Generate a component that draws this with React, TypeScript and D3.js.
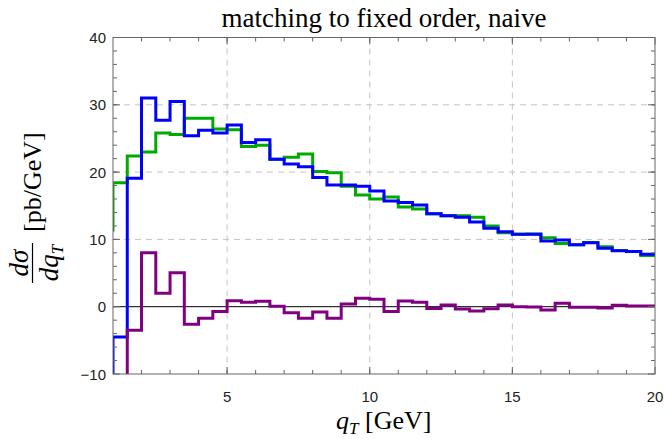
import React from "react";
import * as d3 from "d3";

// lower bin edges (GeV); last bin ends at 20
const binLow = [
  0.5, 1, 1.5, 2, 2.5, 3, 3.5, 4, 4.5, 5, 5.5, 6, 6.5, 7, 7.5, 8, 8.5, 9, 9.5,
  10, 10.5, 11, 11.5, 12, 12.5, 13, 13.5, 14, 14.5, 15, 15.5, 16, 16.5, 17,
  17.5, 18, 18.5, 19, 19.5,
];
const binEnd = 20;

const greenVals = [
  11.4, 18.4, 22.4, 23.0, 25.8, 25.6, 28.0, 28.0, 26.4, 26.3, 23.8, 24.0, 21.9,
  22.2, 22.7, 20.1, 19.9, 17.9, 16.6, 16.0, 16.3, 14.8, 14.5, 13.8, 13.5, 13.5,
  13.3, 12.0, 11.0, 10.75, 10.8, 10.25, 9.4, 9.2, 9.55, 8.9, 8.35, 8.2, 7.6,
];
const blueVals = [
  -30, -4.5, 19.1, 31.0, 27.7, 30.5, 25.4, 26.2, 25.8, 27.0, 24.4, 24.8, 21.9,
  21.2, 20.8, 19.2, 18.1, 18.1, 17.9, 17.2, 15.7, 15.5, 15.1, 13.8, 13.5, 13.3,
  12.6, 11.65, 11.15, 10.75, 10.75, 9.75, 9.9, 9.2, 9.5, 8.7, 8.3, 8.2, 7.8,
];
const purpleVals = [
  -40, -22.9, -3.5, 8.0, 2.0, 5.05, -2.6, -1.7, -0.7, 0.9, 0.65, 0.8, 0.05,
  -0.9, -1.7, -0.8, -1.7, 0.4, 1.25, 1.1, -0.7, 0.85, 0.65, -0.25, 0.25, -0.35,
  -0.65, -0.3, 0.25, 0.0, -0.05, -0.5, 0.5, -0.1, -0.1, -0.2, 0.2, 0.1, 0.1,
];

const xMajor = [5, 10, 15, 20];
const xMinor = d3.range(2, 20, 1);
const yMajor = [-10, 0, 10, 20, 30, 40];
const yMinor = d3.range(-8, 40, 2);
const xGrid = [5, 10, 15];
const yGrid = [10, 20, 30];

const titleText = "matching to fixed order, naive";

const W = 664;
const H = 439;
const L = 113;
const R = 655;
const T = 37.5;
const B = 374;

export default function App() {
  const x = d3.scaleLinear().domain([1, 20]).range([L, R]);
  const y = d3.scaleLinear().domain([-10, 40]).range([B, T]);

  const mkPath = (vals: number[]) => {
    const pts: [number, number][] = binLow.map((e, i) => [e, vals[i]]);
    pts.push([binEnd, vals[vals.length - 1]]);
    return d3
      .line<[number, number]>()
      .x((d) => x(d[0]))
      .y((d) => y(d[1]))
      .curve(d3.curveStepAfter)(pts) as string;
  };

  const frameColor = "#666";
  const sans = "'Liberation Sans', Arial, sans-serif";
  const serif = "'Liberation Serif', 'Times New Roman', serif";

  return (
    <svg
      width={W}
      height={H}
      style={{ position: "absolute", left: 0, top: 0, background: "#fff" }}
    >
      <defs>
        <clipPath id="plot">
          <rect x={L} y={T} width={R - L} height={B - T} />
        </clipPath>
      </defs>
      {/* grid */}
      {xGrid.map((v) => (
        <line
          key={"gx" + v}
          x1={x(v)}
          x2={x(v)}
          y1={T}
          y2={B}
          stroke="#c4c4c4"
          strokeWidth={1}
          strokeDasharray="6,5"
        />
      ))}
      {yGrid.map((v) => (
        <line
          key={"gy" + v}
          x1={L}
          x2={R}
          y1={y(v)}
          y2={y(v)}
          stroke="#c4c4c4"
          strokeWidth={1}
          strokeDasharray="6,5"
        />
      ))}
      {/* zero line */}
      <line x1={L} x2={R} y1={y(0)} y2={y(0)} stroke="#000" strokeWidth={1} />
      {/* histograms */}
      <g clipPath="url(#plot)" fill="none" strokeWidth={3} strokeLinejoin="miter">
        <path d={mkPath(greenVals)} stroke="#00aa00" />
        <path d={mkPath(blueVals)} stroke="#0000ff" />
        <path d={mkPath(purpleVals)} stroke="#800080" />
      </g>
      {/* frame */}
      <rect
        x={L}
        y={T}
        width={R - L}
        height={B - T}
        fill="none"
        stroke={frameColor}
        strokeWidth={1}
      />
      {/* x ticks */}
      {xMinor.map((v) => (
        <g key={"xm" + v}>
          <line x1={x(v)} x2={x(v)} y1={B} y2={B - 4} stroke={frameColor} />
          <line x1={x(v)} x2={x(v)} y1={T} y2={T + 4} stroke={frameColor} />
        </g>
      ))}
      {xMajor.map((v) => (
        <g key={"xM" + v}>
          <line x1={x(v)} x2={x(v)} y1={B} y2={B - 7} stroke={frameColor} />
          <line x1={x(v)} x2={x(v)} y1={T} y2={T + 7} stroke={frameColor} />
          <text
            x={x(v)}
            y={B + 28}
            textAnchor="middle"
            fontFamily={sans}
            fontSize={15}
            fill="#222"
          >
            {v}
          </text>
        </g>
      ))}
      {/* y ticks */}
      {yMinor.map((v) => (
        <g key={"ym" + v}>
          <line x1={L} x2={L + 4} y1={y(v)} y2={y(v)} stroke={frameColor} />
          <line x1={R} x2={R - 4} y1={y(v)} y2={y(v)} stroke={frameColor} />
        </g>
      ))}
      {yMajor.map((v) => (
        <g key={"yM" + v}>
          <line x1={L} x2={L + 7} y1={y(v)} y2={y(v)} stroke={frameColor} />
          <line x1={R} x2={R - 7} y1={y(v)} y2={y(v)} stroke={frameColor} />
          <text
            x={L - 7}
            y={y(v) + 5.5}
            textAnchor="end"
            fontFamily={sans}
            fontSize={15}
            fill="#222"
          >
            {v < 0 ? "\u2212" + Math.abs(v) : v}
          </text>
        </g>
      ))}
      {/* title */}
      <text
        x={(L + R) / 2}
        y={27}
        textAnchor="middle"
        fontFamily={serif}
        fontSize={27}
        fill="#000"
      >
        {titleText}
      </text>
      {/* x label */}
      <text x={336} y={429} fontFamily={serif} fontSize={26} fill="#000">
        <tspan fontStyle="italic">q</tspan>
        <tspan fontStyle="italic" fontSize={17} dy={5}>
          T
        </tspan>
        <tspan dy={-5}> [GeV]</tspan>
      </text>
      {/* y label */}
      <g fontFamily={serif} fill="#000">
        <text
          transform="translate(28,263) rotate(-90)"
          textAnchor="middle"
          fontSize={27}
          fontStyle="italic"
        >
          dσ
        </text>
        <line x1={32.5} x2={32.5} y1={243} y2={283} stroke="#000" strokeWidth={1.2} />
        <text
          transform="translate(58,263) rotate(-90)"
          textAnchor="middle"
          fontSize={27}
          fontStyle="italic"
        >
          dq
          <tspan fontSize={17} dy={5}>
            T
          </tspan>
        </text>
        <text transform="translate(41,232) rotate(-90)" fontSize={26}>
          [pb/GeV]
        </text>
      </g>
    </svg>
  );
}
